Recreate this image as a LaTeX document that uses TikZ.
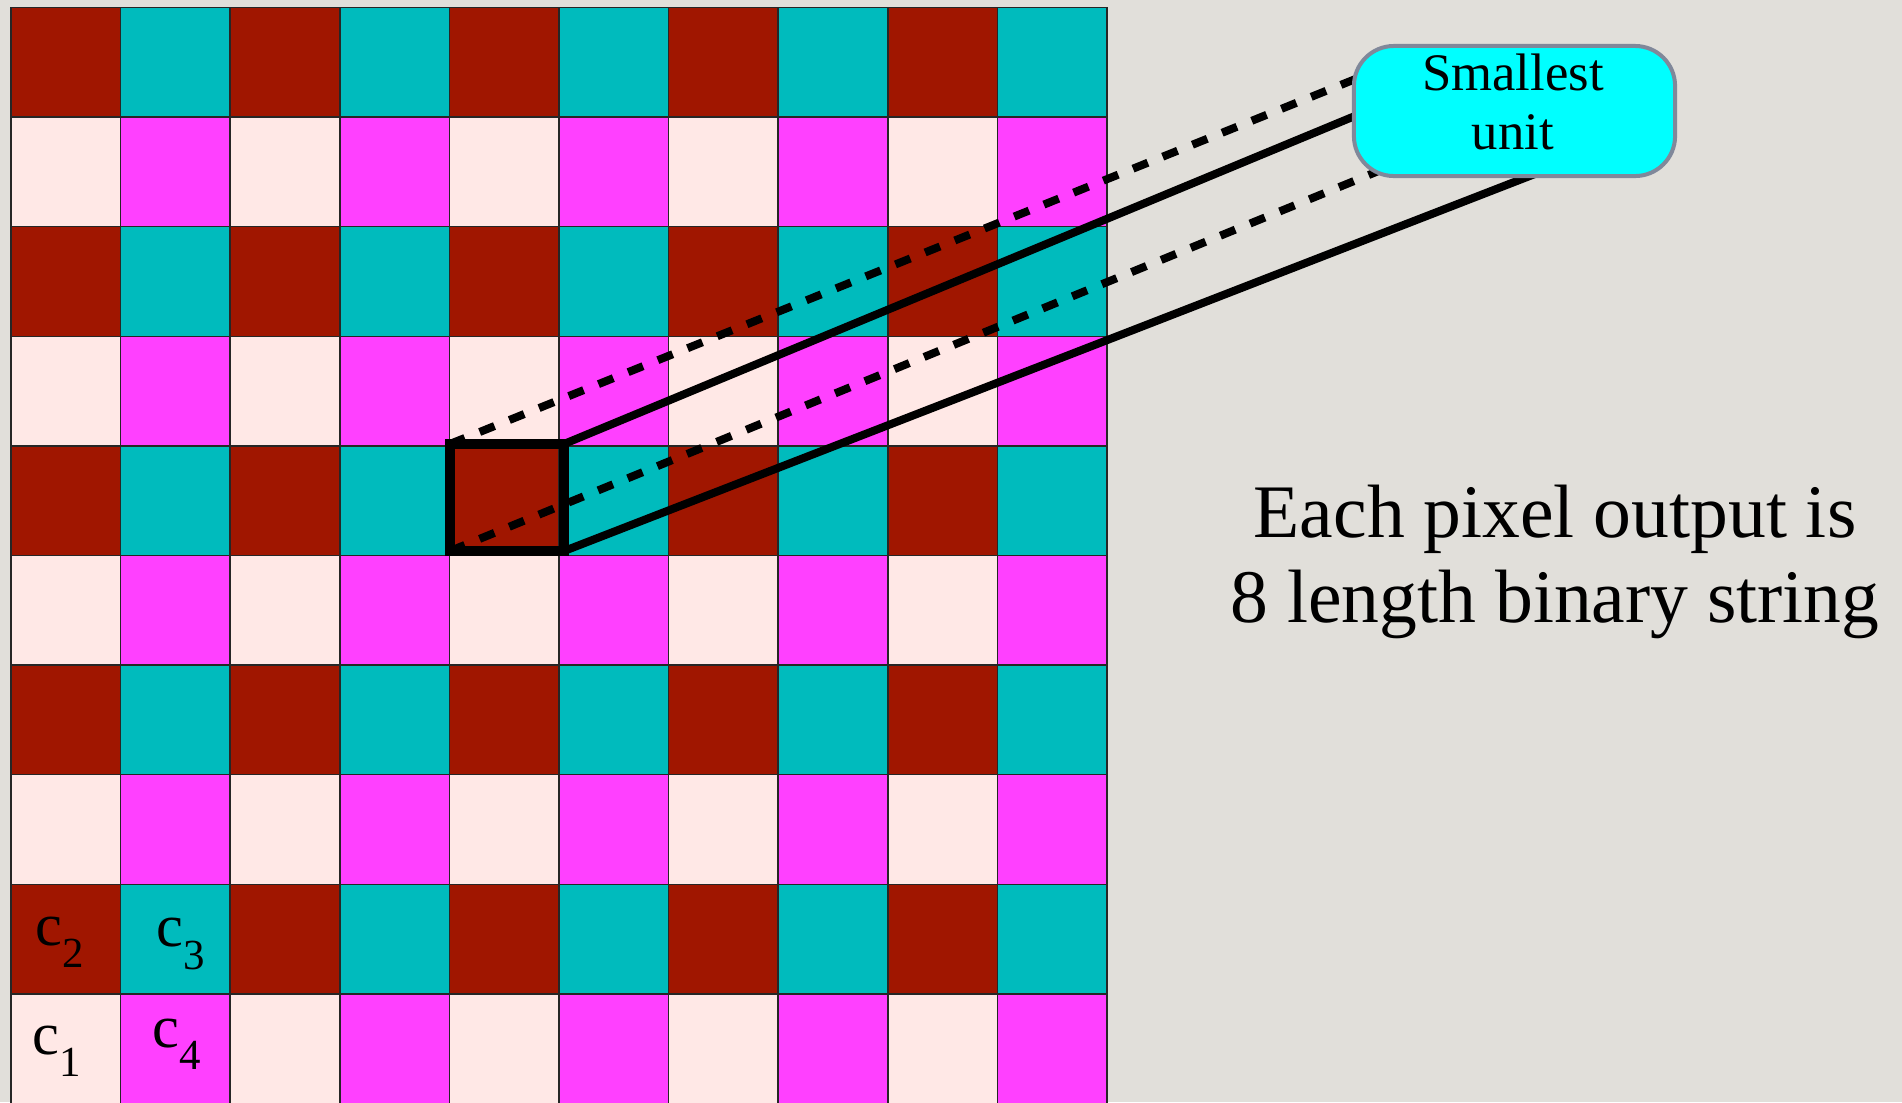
\documentclass[tikz,border=0pt]{standalone}
\usepackage{fontspec}
\setmainfont{Liberation Serif}
\usetikzlibrary{positioning}
\definecolor{paper}{HTML}{E1DFDA}
\definecolor{cell0}{HTML}{A01600}
\definecolor{cell1}{HTML}{00BBBD}
\definecolor{cell2}{HTML}{FFE8E6}
\definecolor{cell3}{HTML}{FF40FF}
\definecolor{unitcyan}{HTML}{00FFFF}
\definecolor{unitgray}{HTML}{80889A}
\newcommand{\cname}[1]{c\raisebox{-6.3pt}{\fontsize{12.2}{12}\selectfont #1}}

\begin{document}
\begin{tikzpicture}[x=0.01cm, y=-0.01cm,
  cell/.style={draw=black!85, line width=0.015cm},
  pickbox/.style={draw=black, line width=0.1cm, minimum width=1.14cm, minimum height=1.07cm, outer sep=0pt, inner sep=0pt},
  solidlink/.style={line width=0.08cm},
  dashlink/.style={line width=0.08cm, dash pattern=on 0.16cm off 0.16cm},
  callout/.style={draw=unitgray, fill=unitcyan, line width=0.04cm, rounded corners=0.4cm, minimum width=3.21cm, minimum height=1.30cm},
  callouttext/.style={align=center, inner sep=0pt, font=\fontsize{15}{17}\selectfont},
  caption/.style={align=center, inner sep=0pt, font=\fontsize{21.5}{24.2}\selectfont},
  cellname/.style={inner sep=0pt, font=\fontsize{17.2}{17.2}\selectfont},
]
  \fill[paper] (0,0) rectangle (1902,1102);
  \useasboundingbox (0,0) rectangle (1902,1102);

  % checkerboard
  \foreach \r in {0,...,9}{
    \foreach \c in {0,...,9}{
      \pgfmathtruncatemacro{\k}{mod(\r,2)*2+mod(\c,2)}
      \draw[cell, fill=cell\k] (11+109.6*\c, 7.5+109.6*\r) rectangle ++(109.6,109.6);
    }
  }

  \node[cellname] (c2) at (60,942.5) {\cname{2}};
  \node[cellname] (c3) at (180.5,944) {\cname{3}};
  \node[cellname] (c1) at (56.5,1051) {\cname{1}};
  \node[cellname] (c4) at (176.5,1044) {\cname{4}};

  % projection of the picked pixel
  \node[pickbox] (pick) at (507,497.5) {};
  \coordinate (e1) at (1420,53);
  \coordinate (e2) at (1420,89);
  \coordinate (e3) at (1420,154);
  \coordinate (e4) at (1540,172);
  \draw[dashlink] (pick.north west) -- (e1);
  \draw[solidlink] (pick.north east) -- (e2);
  \draw[dashlink] (pick.south west) -- (e3);
  \draw[solidlink] (pick.south east) -- (e4);

  \node[callout] (unit) at (1514.5,111) {};
  \node[callouttext] (unitlabel) at (1513,102) {Smallest\\unit};

  \node[caption] (note) at (1555,561.7) {Each pixel output is\\8 length binary string};
\end{tikzpicture}
\end{document}
